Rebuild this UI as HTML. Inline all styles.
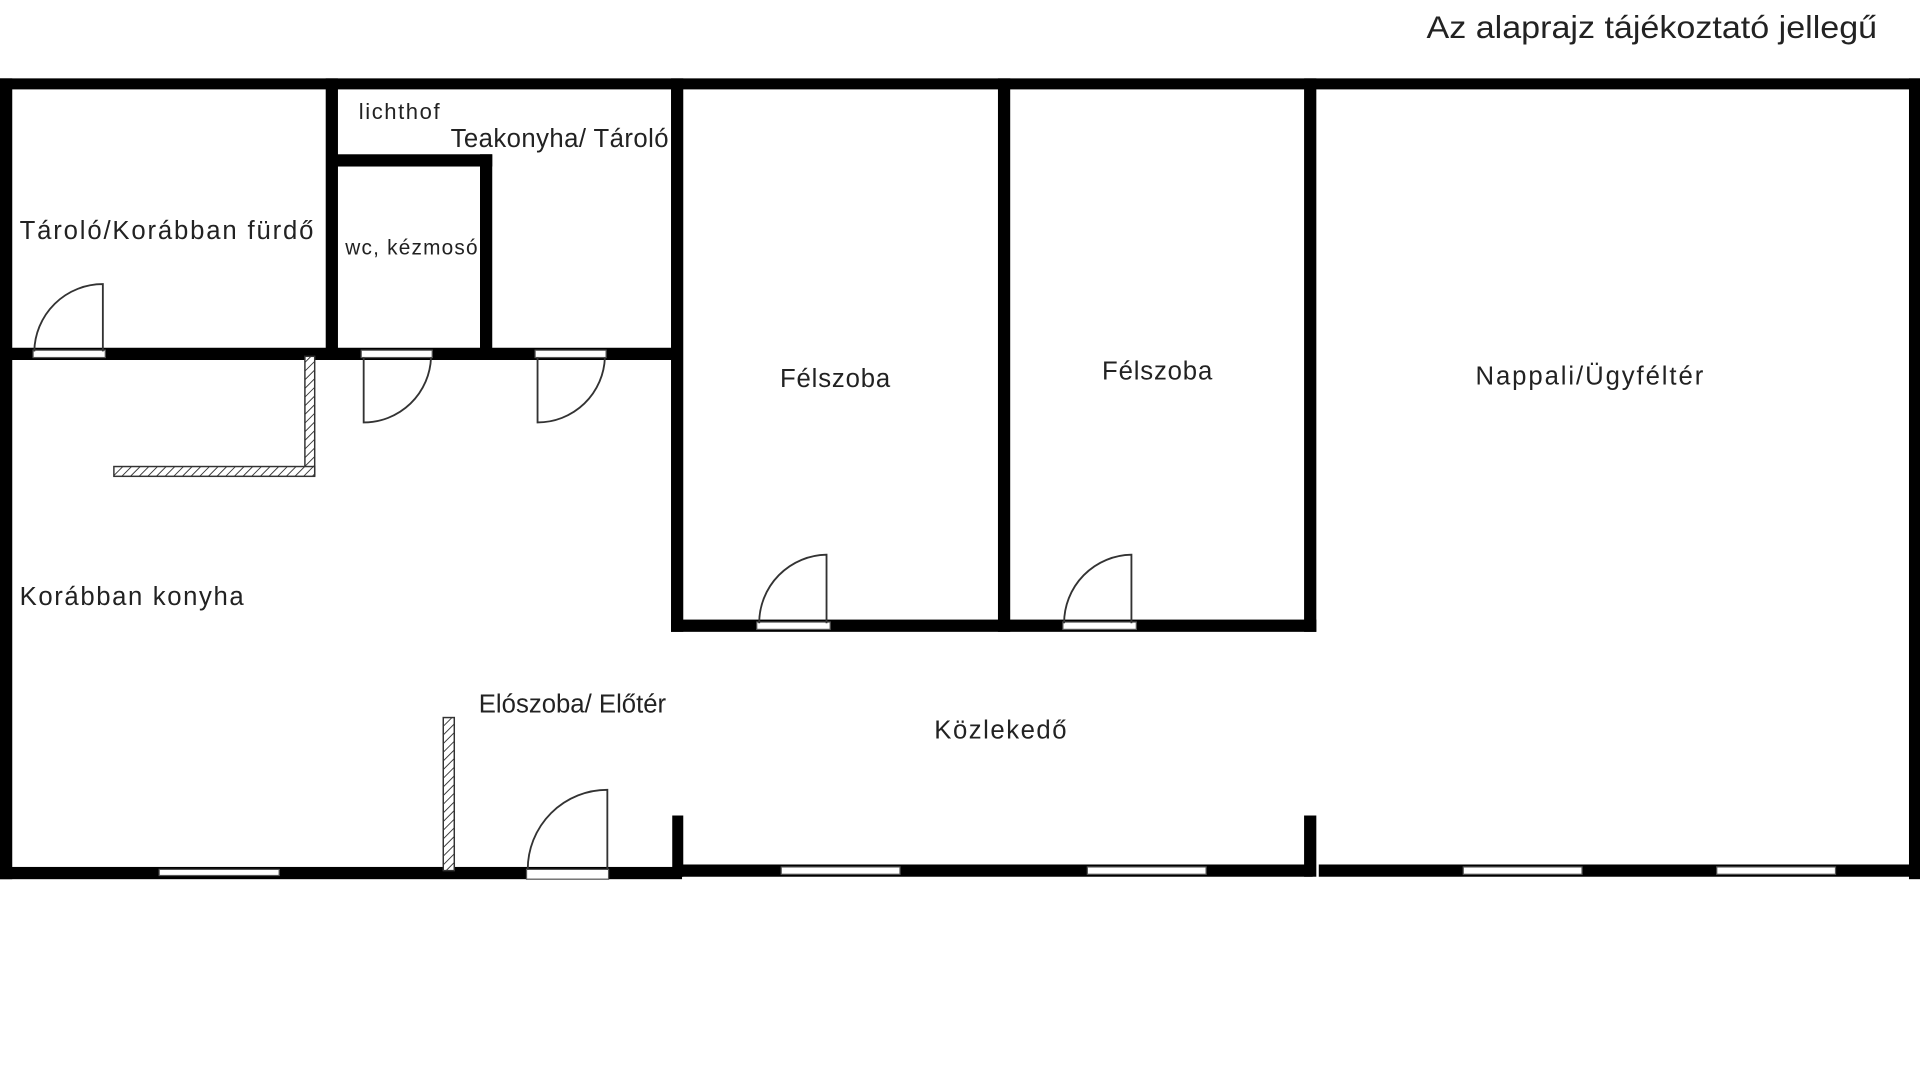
<!DOCTYPE html>
<html><head><meta charset="utf-8"><style>
html,body{margin:0;padding:0;background:#fff;width:1920px;height:1080px;overflow:hidden}
svg{display:block}
text{font-family:"Liberation Sans",sans-serif;fill:#222}
</style></head><body>
<svg width="1920" height="1080" viewBox="0 0 1568 882" xmlns="http://www.w3.org/2000/svg">
<defs>
<pattern id="h" width="5" height="5" patternUnits="userSpaceOnUse" patternTransform="rotate(45)">
<rect width="5" height="5" fill="#fff"/><line x1="0" y1="0" x2="0" y2="5" stroke="#333" stroke-width="1.5"/>
</pattern>
</defs>
<text x="1165" y="31" font-size="26" textLength="368" lengthAdjust="spacingAndGlyphs">Az alaprajz tájékoztató jellegű</text>
<g fill="#000">
<rect x="0" y="64" width="1568" height="9"/>
<rect x="0" y="64" width="10" height="654"/>
<rect x="1559" y="64" width="9" height="654"/>
<rect x="0" y="708" width="557" height="10"/>
<rect x="555" y="706" width="517" height="10"/>
<rect x="1077" y="706" width="491" height="10"/>
<rect x="549" y="666" width="9" height="50"/>
<rect x="1065" y="666" width="10" height="50"/>
<rect x="266" y="64" width="10" height="226"/>
<rect x="0" y="284" width="556" height="10"/>
<rect x="271" y="126" width="131" height="10"/>
<rect x="392" y="126" width="10" height="164"/>
<rect x="548" y="64" width="10" height="452"/>
<rect x="548" y="506" width="527" height="10"/>
<rect x="815" y="64" width="10" height="452"/>
<rect x="1065" y="64" width="10" height="452"/>
</g>
<g fill="#fff" stroke="#555" stroke-width="1">
<rect x="27" y="286" width="59" height="6"/>
<rect x="295" y="286" width="58" height="6"/>
<rect x="437" y="286" width="58" height="6"/>
<rect x="618" y="508" width="60" height="6"/>
<rect x="868" y="508" width="60" height="6"/>
<rect x="430" y="710" width="67" height="8"/>
<rect x="130" y="710" width="98" height="5"/>
<rect x="638" y="708" width="97" height="6"/>
<rect x="888" y="708" width="97" height="6"/>
<rect x="1195" y="708" width="97" height="6"/>
<rect x="1402" y="708" width="97" height="6"/>
</g>
<g fill="url(#h)" stroke="#333" stroke-width="1.2">
<rect x="249" y="291" width="8" height="97"/>
<rect x="93" y="381" width="164" height="8"/>
<rect x="362" y="586" width="9" height="125"/>
</g>
<g fill="none" stroke="#333" stroke-width="1.5">
<path d="M84 287 V232 A56 56 0 0 0 28 287"/>
<path d="M297 292 V345 A55 55 0 0 0 352 292"/>
<path d="M439 292 V345 A55 55 0 0 0 494 292"/>
<path d="M675 509 V453 A56 56 0 0 0 620 509"/>
<path d="M924 509 V453 A56 56 0 0 0 869 509"/>
<path d="M496 710 V645 A65 65 0 0 0 431 710"/>
</g>
<g font-size="21" lengthAdjust="spacingAndGlyphs">
<text x="16" y="195" textLength="240">Tároló/Korábban fürdő</text>
<text x="293" y="97" font-size="18" textLength="66">lichthof</text>
<text x="368" y="120" textLength="178">Teakonyha/ Tároló</text>
<text x="282" y="208" font-size="17" textLength="108">wc, kézmosó</text>
<text x="637" y="316" textLength="90">Félszoba</text>
<text x="900" y="310" textLength="90">Félszoba</text>
<text x="1205" y="314" textLength="186">Nappali/Ügyféltér</text>
<text x="16" y="494" textLength="183">Korábban konyha</text>
<text x="391" y="582" textLength="153">Elószoba/ Előtér</text>
<text x="763" y="603" textLength="108">Közlekedő</text>
</g>
</svg>
</body></html>
